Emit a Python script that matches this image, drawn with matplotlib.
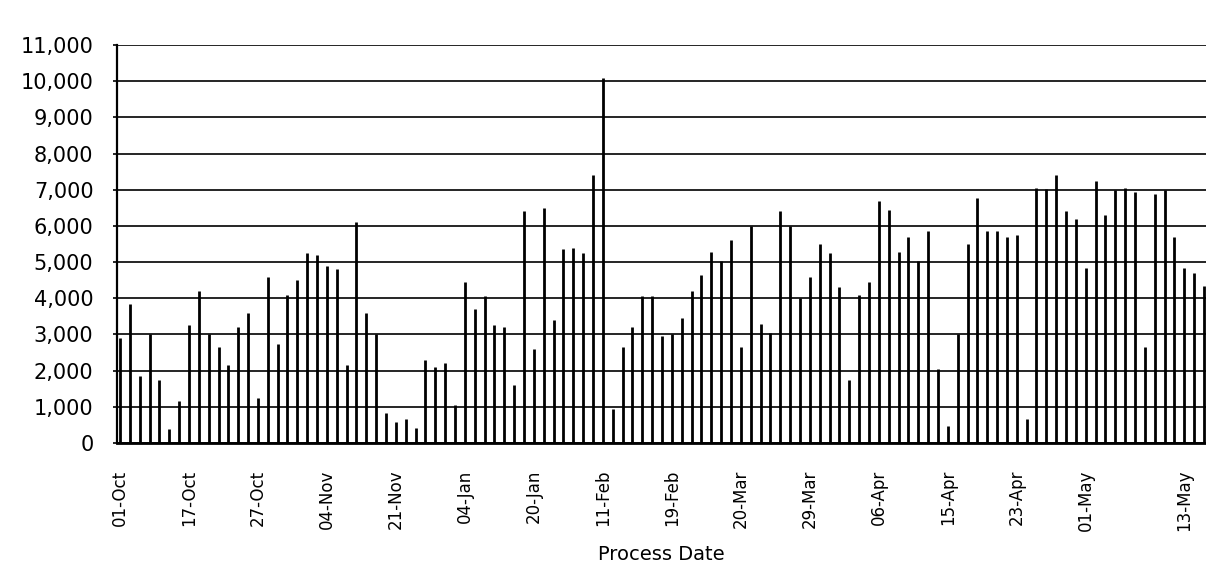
import matplotlib
matplotlib.use("Agg")
import matplotlib.pyplot as plt
from matplotlib.ticker import FuncFormatter

# daily processed counts
daily_counts = [
    2900, 3850, 1850, 3000, 1750, 400, 1150, 3250, 4200, 3000,
    2650, 2150, 3200, 3600, 1250, 4600, 2750, 4100, 4500, 5250,
    5200, 4900, 4800, 2150, 6100, 3600, 3000, 820, 580, 650,
    420, 2300, 2100, 2200, 1050, 4450, 3700, 4050, 3250, 3200,
    1600, 6400, 2600, 6500, 3400, 5350, 5400, 5250, 7400, 10100,
    950, 2650, 3200, 4050, 4050, 2950, 3000, 3450, 4200, 4650,
    5280, 5030, 5600, 2650, 6000, 3300, 3050, 6400, 6000, 4000,
    4600, 5500, 5250, 4300, 1750, 4100, 4450, 6680, 6450, 5290,
    5700, 5020, 5850, 2050, 480, 3000, 5500, 6770, 5850, 5850,
    5700, 5750, 650, 7060, 7020, 7400, 6400, 6200, 4850, 7250,
    6300, 7000, 7050, 6950, 2640, 6880, 7000, 5700, 4830, 4700,
    4330,
]

# which bars carry a date label
label_idx = [0, 7, 14, 21, 28, 35, 42, 49, 56, 63, 70, 77, 84, 91, 98, 108]
label_text = ["01-Oct", "17-Oct", "27-Oct", "04-Nov", "21-Nov", "04-Jan",
              "20-Jan", "11-Feb", "19-Feb", "20-Mar", "29-Mar", "06-Apr",
              "15-Apr", "23-Apr", "01-May", "13-May"]

y_ticks = list(range(0, 11001, 1000))

W, H = 1206, 575
fig = plt.figure(figsize=(W / 100, H / 100), dpi=100, facecolor="white")
ax = fig.add_axes([117 / W, 1 - 443 / H, 1 - 117 / W, (443 - 45) / H])

x = list(range(len(daily_counts)))
# thin drop-line bars, as in the scanned original
ax.vlines(x, 0, daily_counts, colors="black", lw=2.0, zorder=3)

ax.set_ylim(0, 11000)
ax.set_xlim(-0.3, len(daily_counts) - 0.8)
ax.set_yticks(y_ticks)
ax.yaxis.set_major_formatter(FuncFormatter(lambda v, p: f"{int(v):,}"))
ax.grid(axis="y", color="black", lw=1.2, zorder=1)
ax.grid(axis="x", visible=False)

for s in ["top", "right"]:
    ax.spines[s].set_visible(False)
ax.spines["left"].set_linewidth(1.6)
ax.spines["bottom"].set_linewidth(2.0)

ax.tick_params(axis="y", length=3, width=1.2, labelsize=15, pad=14, colors="black")
ax.set_xticks(label_idx, label_text, rotation=90, fontsize=12)
ax.tick_params(axis="x", length=0, pad=19)
ax.set_xlabel("Process Date", fontsize=14, labelpad=10)

fig.savefig("out.png", dpi=100, facecolor="white")
